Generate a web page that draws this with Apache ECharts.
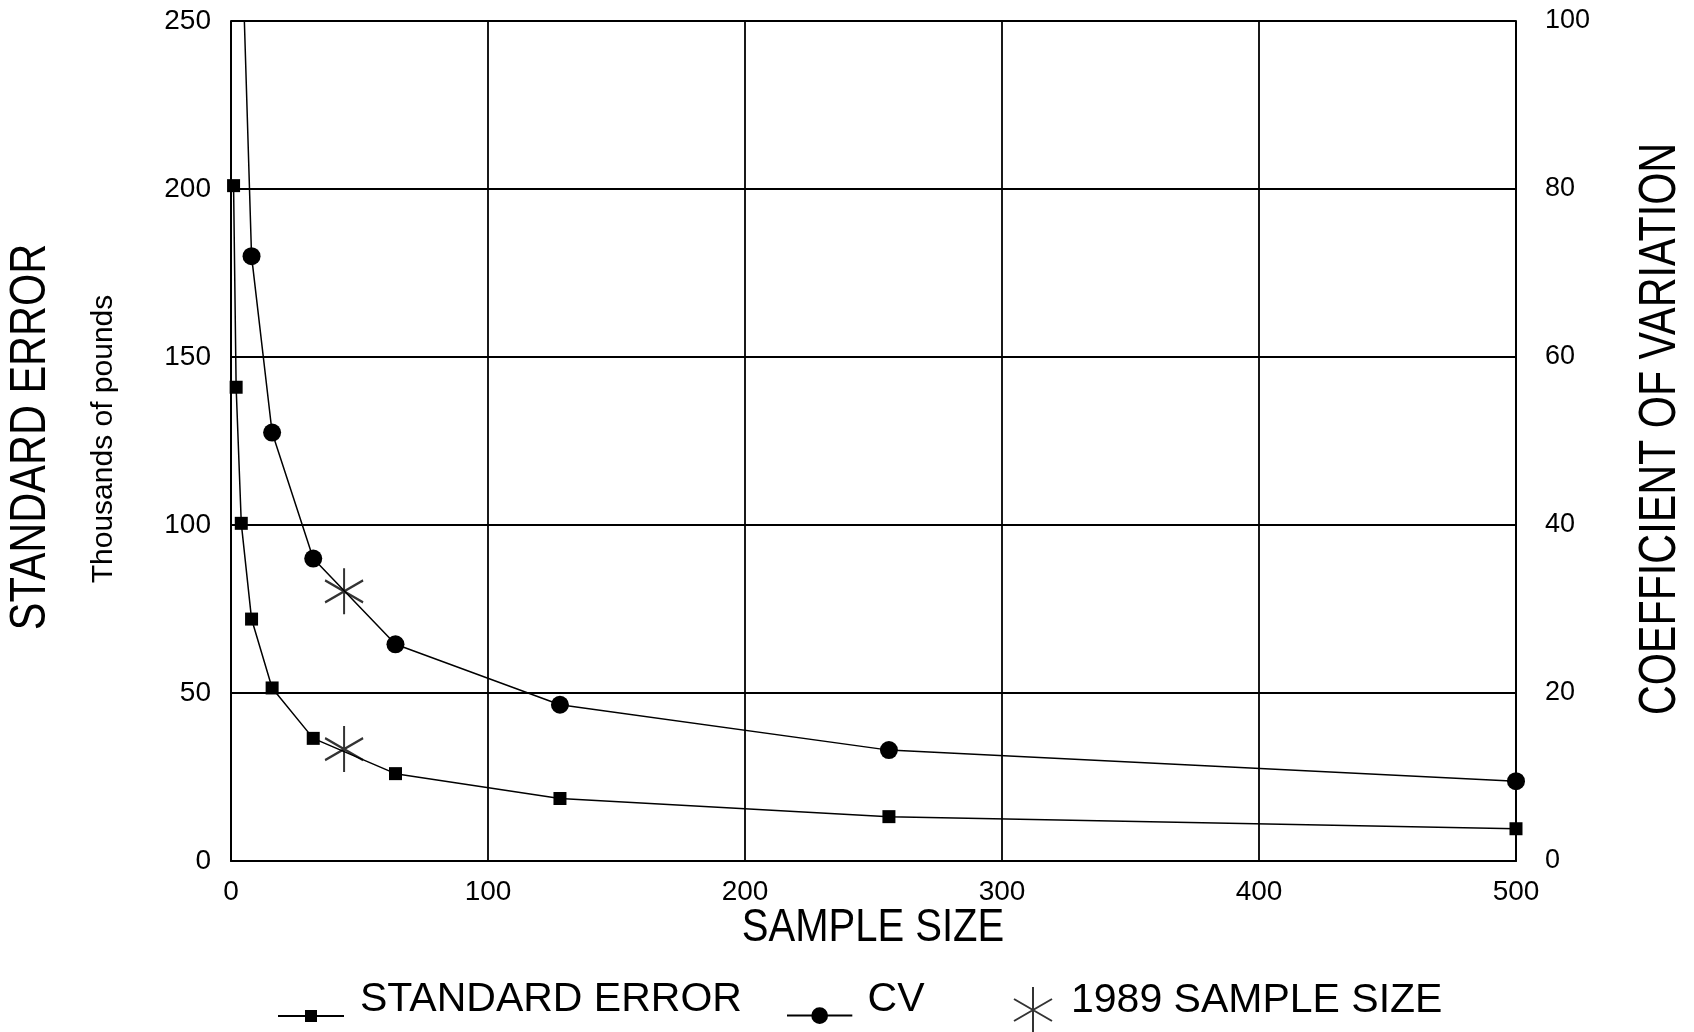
<!DOCTYPE html>
<html>
<head>
<meta charset="utf-8">
<title>Standard error and CV by sample size</title>
<script src="https://cdn.jsdelivr.net/npm/echarts@6/dist/echarts.min.js"></script>
<style>
  html, body { margin: 0; padding: 0; background: #fff; }
  #chart { width: 1694px; height: 1032px; }
</style>
</head>
<body>
<div id="chart"></div>
<script>
  // values
  var sampleSizes = [1, 2, 4, 8, 16, 32, 64, 128, 256, 500];
  var stdError = [201, 141, 100.5, 72, 51.5, 36.5, 26, 18.6, 13.2, 9.6];

  // first CV point is above the top edge, only its line shows
  var cvSizes = [4, 8, 16, 32, 64, 128, 256, 500];
  var cv = [112, 72, 51, 36, 25.8, 18.6, 13.2, 9.5];

  // 1989 sample size marker
  var size1989 = [44];
  var se1989 = [33.3];
  var cv1989 = [32.1];

  var xTicks = [0, 100, 200, 300, 400, 500];
  var seTicks = [0, 50, 100, 150, 200, 250];
  var cvTicks = [0, 20, 40, 60, 80, 100];

  var font = "'Liberation Sans', Arial, Helvetica, sans-serif";
  var starPath = 'path://M19,0L19,46M0,12L38,34M0,34L38,12';

  // legend icons, drawn a bit below the text like in the original
  var seIcon = 'path://M0,0M77,48M0,39L66,39L66,41L0,41ZM27,34L39,34L39,46L27,46Z';
  var cvIcon = 'path://M0,0M76,48M0,39L25,39L25,41L0,41ZM41,39L66,39L66,41L41,41Z' +
    'M24.5,40A8.5,8.5,0,1,1,41.5,40A8.5,8.5,0,1,1,24.5,40Z';
  var starIcon = 'path://M0,0M52,64M19,18L19,64M0,30L38,52M0,52L38,30';

  function pairs (xs, ys) {
    var out = [];
    for (var i = 0; i < xs.length; i++) {
      out.push([xs[i], ys[i]]);
    }
    return out;
  }

  var cvData = pairs(cvSizes, cv);
  cvData[0] = { value: cvData[0], symbol: 'none' };

  var chart = echarts.init(document.getElementById('chart'));

  var legendText = {
    fontFamily: font,
    fontSize: 41,
    color: '#000'
  };

  function title (text, x, y, size, rotated, squeeze) {
    return {
      type: 'text',
      x: x,
      y: y,
      rotation: rotated ? Math.PI / 2 : 0,
      scaleX: squeeze,
      style: {
        text: text,
        fontFamily: font,
        fontSize: size,
        fill: '#000',
        align: 'center',
        verticalAlign: 'middle'
      }
    };
  }

  chart.setOption({
    backgroundColor: '#fff',
    animation: false,
    grid: {
      left: 231,
      right: 178,
      top: 21,
      bottom: 171
    },
    legend: [
      {
        data: [{ name: 'STANDARD ERROR', icon: seIcon }],
        left: 278,
        top: 976,
        padding: 0,
        itemWidth: 77,
        itemHeight: 48,
        textStyle: legendText
      },
      {
        data: [{ name: 'CV', icon: cvIcon }],
        left: 787,
        top: 976,
        padding: 0,
        itemWidth: 76,
        itemHeight: 48,
        textStyle: legendText
      },
      {
        data: [{ name: '1989 SAMPLE SIZE', icon: starIcon }],
        left: 1013,
        top: 968,
        padding: 0,
        itemWidth: 52,
        itemHeight: 64,
        textStyle: legendText
      }
    ],
    xAxis: {
      type: 'value',
      min: xTicks[0],
      max: xTicks[xTicks.length - 1],
      interval: xTicks[1] - xTicks[0],
      axisLine: { show: true, lineStyle: { color: '#000', width: 2 } },
      axisTick: { show: false },
      axisLabel: { color: '#000', fontFamily: font, fontSize: 28, margin: 17 },
      splitLine: { show: true, lineStyle: { color: '#000', width: 1.8 } }
    },
    yAxis: [
      {
        type: 'value',
        position: 'left',
        min: seTicks[0],
        max: seTicks[seTicks.length - 1],
        interval: seTicks[1] - seTicks[0],
        axisLine: { show: true, lineStyle: { color: '#000', width: 2 } },
        axisTick: { show: false },
        axisLabel: { color: '#000', fontFamily: font, fontSize: 28, margin: 20 },
        splitLine: { show: true, lineStyle: { color: '#000', width: 1.8 } }
      },
      {
        type: 'value',
        position: 'right',
        min: cvTicks[0],
        max: cvTicks[cvTicks.length - 1],
        interval: cvTicks[1] - cvTicks[0],
        axisLine: { show: true, lineStyle: { color: '#000', width: 2 } },
        axisTick: { show: false },
        axisLabel: { color: '#000', fontFamily: font, fontSize: 27, margin: 29 },
        splitLine: { show: false }
      }
    ],
    series: [
      {
        name: 'STANDARD ERROR',
        type: 'line',
        yAxisIndex: 0,
        data: pairs(sampleSizes, stdError),
        symbol: 'rect',
        symbolSize: 13,
        lineStyle: { color: '#000', width: 1.5 },
        itemStyle: { color: '#000' }
      },
      {
        name: 'CV',
        type: 'line',
        yAxisIndex: 1,
        data: cvData,
        symbol: 'circle',
        symbolSize: 18,
        clip: true,
        lineStyle: { color: '#000', width: 1.5 },
        itemStyle: { color: '#000' }
      },
      {
        name: '1989 SAMPLE SIZE',
        type: 'scatter',
        yAxisIndex: 0,
        data: pairs(size1989, se1989),
        symbol: starPath,
        symbolSize: [38, 46],
        itemStyle: { color: 'transparent', borderColor: '#000', borderWidth: 2.2 },
        z: 5
      },
      {
        name: '1989 SAMPLE SIZE',
        type: 'scatter',
        yAxisIndex: 1,
        data: pairs(size1989, cv1989),
        symbol: starPath,
        symbolSize: [38, 46],
        itemStyle: { color: 'transparent', borderColor: '#000', borderWidth: 2.2 },
        z: 5
      }
    ],
    graphic: [
      title('STANDARD ERROR', 31, 437, 50, true, 0.83),
      title('Thousands of pounds', 104, 439, 30, true, 1),
      title('COEFFICIENT OF VARIATION', 1661, 429, 51, true, 0.81),
      title('SAMPLE SIZE', 873, 928, 46, false, 0.87)
    ]
  });
</script>
</body>
</html>
